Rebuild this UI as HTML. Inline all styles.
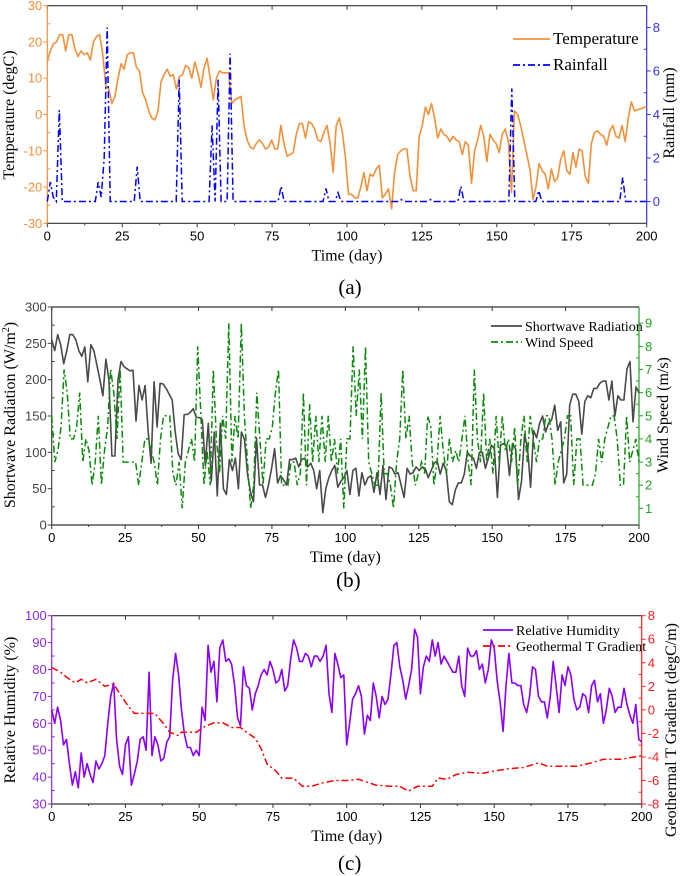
<!DOCTYPE html>
<html><head><meta charset="utf-8"><style>
body{margin:0;background:#fff;}
svg{display:block;}
.tk{font-family:"Liberation Sans",sans-serif;font-size:13px;}
.tt{font-family:"Liberation Serif",serif;font-size:16px;fill:#000;}
.lg{font-family:"Liberation Serif",serif;fill:#000;}
</style></head><body>
<svg id="fig" width="685" height="876" viewBox="0 0 685 876" xmlns="http://www.w3.org/2000/svg"></svg>
<script>
const xTicks=[0,25,50,75,100,125,150,175,200];
const tempTicks=[-30,-20,-10,0,10,20,30];
const rainTicks=[0,2,4,6,8];
const radTicks=[0,50,100,150,200,250,300];
const windTicks=[1,2,3,4,5,6,7,8,9];
const rhTicks=[30,40,50,60,70,80,90,100];
const gradTicks=[-8,-6,-4,-2,0,2,4,6,8];

const temperature=[15,17.5,19.5,20,22,22,17.5,22,22,18,16,17.5,16.5,17,15,20,21.5,22,17,8,7,3,5,10,14,12.5,16.5,17,17,13,12,6,4,1,-1,-1.5,1,9,11,12.5,10.5,11,7,10.5,11,13.5,13,10,14.5,11.5,7.5,13,15.5,10,4,10,12,11.5,11.5,11.5,3,4,4.5,5,-3,-7,-9,-9.5,-8,-7,-8,-9.5,-9,-7,-9.5,-9.5,-3,-8,-11.5,-11,-10.5,-5.5,-2.5,-2.5,-6.5,-2,-2.5,-4,-7,-7.5,-5,-3,-8,-16,-3,-1,-5,-12,-22,-22,-23,-23,-20,-16,-21,-16.5,-17,-15,-14,-23,-22,-20.5,-26,-16,-11,-10,-9.5,-9.5,-17,-21,-21,-6,-3,2,0,3,-1,-6.5,-4,-5.5,-6,-7.5,-6,-7,-7.5,-11,-7.5,-8.5,-19,-10,-7,-3,-6,-13,-5.5,-7,-8,-10.5,-5.5,-4,-7.5,-21.5,1,0,-3,-7,-11,-15,-23.5,-20,-13.5,-15.5,-16.5,-20.5,-15,-18.5,-17.5,-12.5,-10,-15.5,-16.5,-10.5,-14.5,-9.5,-10,-17,-19,-8,-5,-4.5,-5.5,-6,-8.5,-4.5,-3,-6,-6.5,-3,-7.5,-1,3.5,1,1.3,1.6,1.9,2.2];
const rainDays=[0,1,2,3,4,5,16,17,18,19,20,21,29,30,31,43,44,45,54,55,56,57,58,60,61,62,77,78,79,92,93,94,96,97,98,117,118,119,127,128,129,137,138,139,154,155,156,163,164,165,191,192,193,200];
const rainfall=[0,0.9,0.2,0,4.2,0,0,0.9,0.2,2,8,0,0,1.6,0,0,5.6,0,0,3.5,0,5.6,0,0,6.8,0,0,0.7,0,0,0.6,0,0,0.4,0,0,0.1,0,0,0.1,0,0,0.7,0,0,5.2,0,0,0.5,0,0,1.1,0,0];
const radiation=[255,240,262,248,222,240,262,262,255,240,232,245,197,248,240,220,200,178,228,200,95,95,200,225,218,215,212,213,143,192,172,192,130,85,197,135,195,194,188,180,172,128,98,90,152,152,155,160,148,148,145,82,140,60,128,40,140,50,42,90,75,92,50,128,118,70,45,32,120,55,55,38,55,78,105,58,68,62,55,90,90,92,80,90,92,80,85,75,50,75,17,50,65,75,82,52,60,65,75,42,75,78,40,72,55,65,68,45,72,42,82,35,80,78,70,72,55,38,78,70,72,80,75,80,78,65,75,85,88,70,85,75,32,28,48,58,58,70,100,95,92,78,100,100,78,92,110,105,38,110,112,108,68,112,105,35,60,125,105,52,130,120,140,150,128,140,145,165,130,142,58,70,165,180,180,170,125,170,178,175,188,188,195,198,198,172,198,150,178,172,172,215,225,142,190,182];
const wind=[5,3,3.5,4.5,7,6,4,4,4.5,6,3,4,3.5,2,3,5,2,3.5,4.5,7,6,4,7,3,3,3,3,3,2,3,4,4,3.5,3,2,4,5,5,5,2.5,2,3,1,3,3.5,4,3,8,5,2,3.5,2,7,4,2.5,5,4,9,3,5,4,9,5,3,1,2,6,4,2,4,4,4.5,6,7,2,2,2,3,3,2,2.5,6,2,5.5,3,5,3,5,3,5,3,4,2.5,4,1,4,4,8,5,7,4,8,3,2.5,2,2,6,2.5,2.5,2,1,3,4,7,4,5,3,2,2.5,3,2.5,5,4.5,2,3,5,3.5,2.5,4,3,3.5,3,4,5,3,2,7,4,3,6,3,4,2.5,5,3,5,3.5,4,3,4.5,2,4,5,3,5,4,3,4,4,5,5,4,2,3,3.5,4,5,5,2,4,4,2,2,2,2,2.5,4,3,4,4.5,5,5,4,2,2,5,3,3.5,4,3];
const humidity=[65,60,66,61,52,54,45,37,42,36,49,40,45,41,38,46,43,45,48,60,70,75,54,44,41,52,55,37,41,46,54,55,50,79,48,55,52,46,47,53,55,76,86,78,65,56,51,51,48,50,48,66,61,89,79,83,68,88,91,83,84,82,74,62,59,81,74,73,65,71,74,78,80,78,83,80,75,76,80,72,74,84,91,88,83,83,86,85,81,85,85,83,85,89,71,64,86,82,77,78,52,60,69,71,74,70,56,63,61,75,70,62,70,67,69,78,89,90,81,76,69,74,80,95,92,71,81,85,83,91,85,90,82,85,83,81,79,79,85,74,70,88,85,85,87,80,82,75,80,91,88,76,68,57,74,86,75,75,74,74,67,64,70,81,80,70,68,68,62,70,83,74,64,78,74,81,78,69,65,66,71,70,64,74,76,68,71,60,65,73,70,64,66,66,73,67,63,60,67,54,53];
const gradDays=[0,3,6,8,10,12,15,18,21,23,26,28,35,38,40,43,44,49,52,55,58,61,64,66,69,71,73,76,78,82,85,88,92,96,100,104,110,115,118,121,124,129,131,134,137,141,146,150,155,160,165,168,178,183,187,193,200];
const gradient=[3.6,3.2,2.6,2.3,2.6,2.3,2.6,2.0,2.2,1.4,0.3,-0.3,-0.3,-1.2,-1.9,-2.2,-1.9,-1.9,-1.4,-1.1,-1.1,-1.5,-1.5,-1.9,-2.4,-3.3,-4.6,-5.2,-5.8,-5.8,-6.5,-6.5,-6.2,-6.0,-6.0,-5.9,-6.4,-6.5,-6.5,-6.9,-6.5,-6.5,-5.8,-5.9,-5.5,-5.3,-5.4,-5.2,-5.0,-4.9,-4.5,-4.8,-4.8,-4.5,-4.2,-4.2,-3.9];

const NS="http://www.w3.org/2000/svg";
const fig=document.getElementById('fig');
function mk(tag,attrs,parent){const e=document.createElementNS(NS,tag);for(const k in attrs)e.setAttribute(k,attrs[k]);(parent||fig).appendChild(e);return e;}
function lin(d0,d1,r0,r1){return v=>r0+(v-d0)/(d1-d0)*(r1-r0);}
function evenDays(arr){return arr.map((v,i)=>i*200/(arr.length-1));}

function panel(P){
  const g=mk('g',{});
  
  
  const X=lin(0,200,P.x0,P.x1), YL=lin(P.l0,P.l1,P.yb,P.yt), YR=lin(P.r0,P.r1,P.yb,P.yt);
  const top=mk('line',{x1:P.x0,y1:P.yt,x2:P.x1,y2:P.yt,stroke:'#333','stroke-width':1.2},g);
  
  
  const bot=mk('line',{x1:P.x0,y1:P.yb,x2:P.x1,y2:P.yb,stroke:'#333','stroke-width':1.2},g);
  
  
  xTicks.forEach((t,i)=>{
    mk('line',{x1:X(t),y1:P.yb,x2:X(t),y2:P.yb+4,stroke:'#333'},g);
    mk('line',{x1:X(t),y1:P.yt,x2:X(t),y2:P.yt+4,stroke:'#333'},g);
    if(i<xTicks.length-1){const m=X(t+12.5);mk('line',{x1:m,y1:P.yb,x2:m,y2:P.yb+2,stroke:'#333'},g);}
    const tx=mk('text',{x:X(t),y:P.yb+17,'text-anchor':'middle',class:'tk',fill:'#000'},g);tx.textContent=t;
    
    
  });
  const xt=mk('text',{x:(P.x0+P.x1)/2,y:P.yb+37,'text-anchor':'middle',class:'tt'},g);xt.textContent='Time (day)';
  
  
  const pl=mk('text',{x:(P.x0+P.x1)/2+3,y:P.labY,'text-anchor':'middle',class:'tt',style:'font-size:21px'},g);pl.textContent=P.label;
  
  
  const la=mk('line',{x1:P.x0,y1:P.yt,x2:P.x0,y2:P.yb,stroke:P.lc,'stroke-width':1.2},g);
  
  
  P.lt.forEach((t,i)=>{
    mk('line',{x1:P.x0-4,y1:YL(t),x2:P.x0,y2:YL(t),stroke:P.lc},g);
    if(i<P.lt.length-1){const m=YL((t+P.lt[i+1])/2);mk('line',{x1:P.x0,y1:m,x2:P.x0+3,y2:m,stroke:P.lc},g);}
    const tx=mk('text',{x:P.x0-5,y:YL(t)+4.5,'text-anchor':'end',class:'tk',fill:P.lc},g);tx.textContent=t;
    
    
  });
  const lt=mk('text',{x:0,y:0,'text-anchor':'middle',class:'tt',transform:`translate(${P.ltx},${P.lty}) rotate(-90)`},g);
  lt.innerHTML=P.ltitle;
  
  
  const ra=mk('line',{x1:P.x1,y1:P.yt,x2:P.x1,y2:P.yb,stroke:P.rc,'stroke-width':1.2},g);
  
  
  P.rt.forEach((t,i)=>{
    mk('line',{x1:P.x1,y1:YR(t),x2:P.x1+4,y2:YR(t),stroke:P.rc},g);
    if(i<P.rt.length-1){const m=YR((t+P.rt[i+1])/2);mk('line',{x1:P.x1-3,y1:m,x2:P.x1,y2:m,stroke:P.rc},g);}
    const tx=mk('text',{x:P.x1+6,y:YR(t)+4.5,'text-anchor':'start',class:'tk',fill:P.rc},g);tx.textContent=t;
    
    
  });
  const rt=mk('text',{x:0,y:0,'text-anchor':'middle',class:'tt',transform:`translate(${P.rtx},${P.rty}) rotate(-90)`},g);
  rt.textContent=P.rtitle;
  
  
  const d1=P.s1.days.map((d,i)=>(i?'L':'M')+X(d).toFixed(1)+','+YL(P.s1.vals[i]).toFixed(1)).join('');
  const p1=mk('path',{d:d1,fill:'none',stroke:P.s1.c,'stroke-width':1.6,'stroke-linejoin':'round'},g);
  
  
  const d2=P.s2.days.map((d,i)=>(i?'L':'M')+X(d).toFixed(1)+','+YR(P.s2.vals[i]).toFixed(1)).join('');
  const p2=mk('path',{d:d2,fill:'none',stroke:P.s2.c,'stroke-width':1.5,'stroke-dasharray':'7,3,2,3'},g);
  
  
  [[P.s1,''],[P.s2,'7,3,2,3']].forEach((s,k)=>{
    const ly=P.legY+k*P.legDy;
    const ll=mk('line',{x1:P.legX,y1:ly,x2:P.legX+P.legW,y2:ly,stroke:s[0].c,'stroke-width':1.8,'stroke-dasharray':s[1]||'none'},g);
    
    
    const lx=mk('text',{x:P.legX+P.legW+3,y:ly+5,class:'lg',style:'font-size:'+P.legFs+'px'},g);lx.textContent=s[0].label;
    
    
  });
}

panel({name:'panel-a-temperature-rainfall',x0:47.3,x1:646.7,yt:5.7,yb:223.3,l0:-30,l1:30,r0:-1,r1:9,lt:tempTicks,rt:rainTicks,lc:'#f5903a',rc:'#3333ff',
  ltitle:'Temperature (degC)',ltx:14,lty:115,rtitle:'Rainfall (mm)',rtx:674,rty:113,label:'(a)',labY:294,
  s1:{days:evenDays(temperature),vals:temperature,c:'#f5903a',name:'temperature-line',label:'Temperature'},
  s2:{days:rainDays,vals:rainfall,c:'#0000ff',name:'rainfall-line',label:'Rainfall'},
  legX:513,legY:39,legDy:26,legW:37,legFs:17});
panel({name:'panel-b-radiation-wind',x0:51.7,x1:639,yt:307,yb:525,l0:0,l1:300,r0:0.28,r1:9.7,lt:radTicks,rt:windTicks,lc:'#444',rc:'#22a022',
  ltitle:'Shortwave Radiation (W/m<tspan font-size="10" dy="-6">2</tspan><tspan dy="6">)</tspan>',ltx:15,lty:415,rtitle:'Wind Speed (m/s)',rtx:668,rty:415,label:'(b)',labY:587,
  s1:{days:evenDays(radiation),vals:radiation,c:'#4a4a4a',name:'shortwave-radiation-line',label:'Shortwave Radiation'},
  s2:{days:evenDays(wind),vals:wind,c:'#0a8a0a',name:'wind-speed-line',label:'Wind Speed'},
  legX:491,legY:326,legDy:16,legW:31,legFs:14});
panel({name:'panel-c-humidity-gradient',x0:51.7,x1:641.7,yt:615.7,yb:804,l0:30,l1:100,r0:-8,r1:8,lt:rhTicks,rt:gradTicks,lc:'#8a2be2',rc:'#ff2020',
  ltitle:'Relative Humidity (%)',ltx:15,lty:710,rtitle:'Geothermal T Gradient (degC/m)',rtx:676,rty:730,label:'(c)',labY:870,
  s1:{days:evenDays(humidity),vals:humidity,c:'#8a00ff',name:'relative-humidity-line',label:'Relative Humidity'},
  s2:{days:gradDays,vals:gradient,c:'#ff0000',name:'geothermal-gradient-line',label:'Geothermal T Gradient'},
  legX:483,legY:630,legDy:16,legW:30,legFs:14});
</script>
</body></html>
